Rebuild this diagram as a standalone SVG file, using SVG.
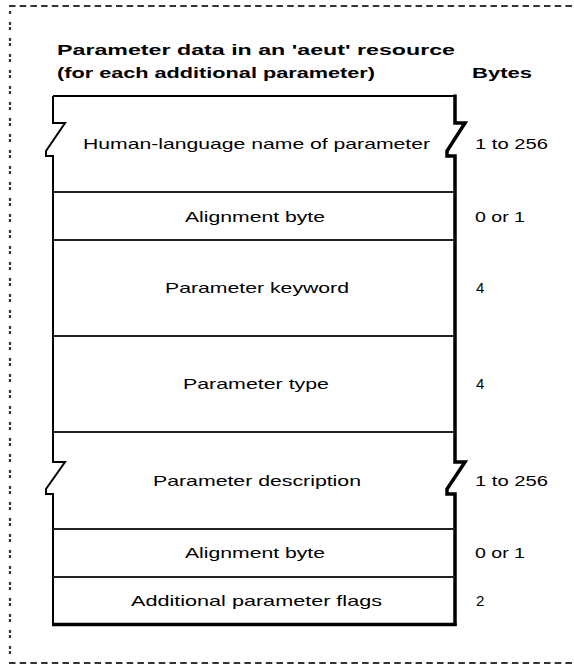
<svg xmlns="http://www.w3.org/2000/svg" width="574" height="666" viewBox="0 0 574 666">
  <style>
    .frame { fill: none; stroke: #333; stroke-width: 2.2; }
    .edge { fill: none; stroke: #000; stroke-width: 2; stroke-linejoin: miter; }
    .edge-heavy { fill: none; stroke: #000; stroke-width: 3.5; stroke-linejoin: miter; }
    .divider { stroke: #222; stroke-width: 2; }
    .title { font-family: "Liberation Sans", Arial, sans-serif; font-weight: bold; font-size: 15px; fill: #000; }
    .label { font-family: "Liberation Sans", Arial, sans-serif; font-size: 15px; fill: #000; text-anchor: middle; }
    .bytes { font-family: "Liberation Sans", Arial, sans-serif; font-size: 15px; fill: #000; }
  </style>

  <!-- Dotted page frame -->
  <g id="frame">
    <line class="frame" x1="9" y1="6" x2="574" y2="6" stroke-dasharray="6.5 4.2"/>
    <line class="frame" x1="9" y1="663" x2="574" y2="663" stroke-dasharray="6.5 4.2"/>
    <line class="frame" x1="10" y1="11" x2="10" y2="660" stroke-dasharray="3 8 3 2"/>
  </g>

  <!-- Heading -->
  <g id="heading">
    <text class="title" x="57" y="55" textLength="398" lengthAdjust="spacingAndGlyphs">Parameter data in an 'aeut' resource</text>
    <text class="title" x="57" y="78" textLength="318" lengthAdjust="spacingAndGlyphs">(for each additional parameter)</text>
    <text class="title" x="472" y="78" textLength="60" lengthAdjust="spacingAndGlyphs">Bytes</text>
  </g>

  <!-- Record outline with break marks on the variable-length fields -->
  <g id="record">
    <path class="edge" d="M53,96 H455"/>
    <path class="edge" d="M53,96 V123 H65 L46,151 V156 H53 V462 H65 L46,489 V494 H53 V624.5"/>
    <path class="edge-heavy" d="M455,94.5 V123 H465 L447,151 V156 H455 V462 H465 L447,489 V494 H455 V626"/>
    <path class="edge-heavy" d="M52,624.5 H456.5"/>
  </g>

  <!-- Field separators -->
  <g id="connectors">
    <line class="divider" x1="53" y1="192" x2="455" y2="192"/>
    <line class="divider" x1="53" y1="240" x2="455" y2="240"/>
    <line class="divider" x1="53" y1="336" x2="455" y2="336"/>
    <line class="divider" x1="53" y1="432" x2="455" y2="432"/>
    <line class="divider" x1="53" y1="529" x2="455" y2="529"/>
    <line class="divider" x1="53" y1="577" x2="455" y2="577"/>
  </g>

  <!-- Fields -->
  <g id="field-name">
    <text class="label" x="256.5" y="149" textLength="347" lengthAdjust="spacingAndGlyphs">Human-language name of parameter</text>
    <text class="bytes" x="475" y="149" textLength="73" lengthAdjust="spacingAndGlyphs">1 to 256</text>
  </g>
  <g id="field-align-1">
    <text class="label" x="255" y="222" textLength="140" lengthAdjust="spacingAndGlyphs">Alignment byte</text>
    <text class="bytes" x="475" y="222" textLength="50" lengthAdjust="spacingAndGlyphs">0 or 1</text>
  </g>
  <g id="field-keyword">
    <text class="label" x="257" y="293" textLength="184" lengthAdjust="spacingAndGlyphs">Parameter keyword</text>
    <text class="bytes" x="476" y="293">4</text>
  </g>
  <g id="field-type">
    <text class="label" x="256" y="389" textLength="146" lengthAdjust="spacingAndGlyphs">Parameter type</text>
    <text class="bytes" x="476" y="389">4</text>
  </g>
  <g id="field-description">
    <text class="label" x="257" y="486" textLength="208" lengthAdjust="spacingAndGlyphs">Parameter description</text>
    <text class="bytes" x="475" y="486" textLength="73" lengthAdjust="spacingAndGlyphs">1 to 256</text>
  </g>
  <g id="field-align-2">
    <text class="label" x="255" y="558" textLength="140" lengthAdjust="spacingAndGlyphs">Alignment byte</text>
    <text class="bytes" x="475" y="558" textLength="50" lengthAdjust="spacingAndGlyphs">0 or 1</text>
  </g>
  <g id="field-flags">
    <text class="label" x="256.5" y="606" textLength="251" lengthAdjust="spacingAndGlyphs">Additional parameter flags</text>
    <text class="bytes" x="476" y="606">2</text>
  </g>
</svg>
